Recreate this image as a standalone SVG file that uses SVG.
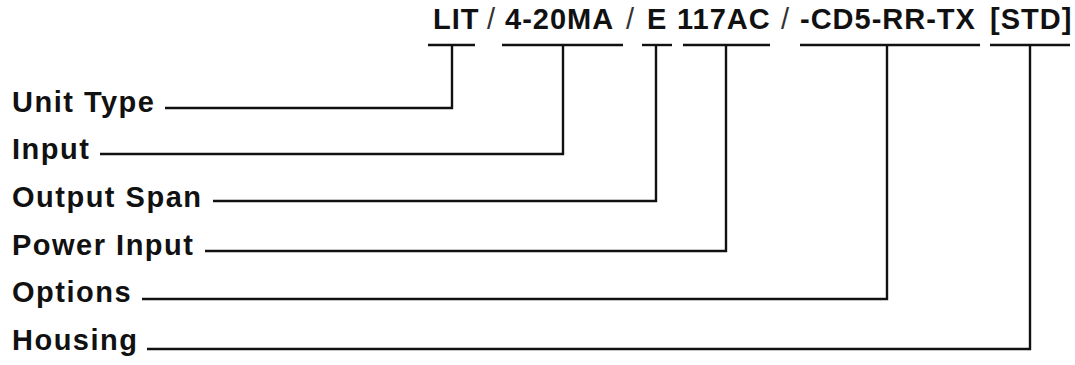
<svg xmlns="http://www.w3.org/2000/svg" width="1075" height="365" viewBox="0 0 1075 365">
  <style>
    .lbl { font-family: "Liberation Sans", Arial, sans-serif; font-weight: bold; font-size: 29px; letter-spacing: 1.5px; fill: #111; }
    .code { font-family: "Liberation Sans", Arial, sans-serif; font-weight: bold; font-size: 29px; letter-spacing: 1px; fill: #111; }
    .slash { font-weight: normal; fill: #333; }
    .ln { fill: none; stroke: #111; stroke-width: 2.4; stroke-linejoin: miter; stroke-linecap: butt; }
  </style>
  <rect width="1075" height="365" fill="#fff"/>
  <g id="code">
    <text class="code" y="29"><tspan x="433">LIT</tspan><tspan class="slash" x="487">/</tspan><tspan x="505">4-20MA</tspan><tspan class="slash" x="626">/</tspan><tspan x="647">E</tspan><tspan x="677">117AC</tspan><tspan class="slash" x="781">/</tspan><tspan x="800">-CD5-RR-TX</tspan><tspan x="990">[STD]</tspan></text>
  </g>
  <g id="unit-type">
    <text class="lbl" x="12" y="112">Unit Type</text>
    <line class="ln" x1="428" y1="45" x2="475" y2="45"/>
  </g>
  <g id="input">
    <text class="lbl" x="12" y="159">Input</text>
    <line class="ln" x1="502" y1="45" x2="623" y2="45"/>
  </g>
  <g id="output-span">
    <text class="lbl" x="12" y="207">Output Span</text>
    <line class="ln" x1="642" y1="45" x2="672" y2="45"/>
  </g>
  <g id="power-input">
    <text class="lbl" x="12" y="255">Power Input</text>
    <line class="ln" x1="683" y1="45" x2="770" y2="45"/>
  </g>
  <g id="options">
    <text class="lbl" x="12" y="302">Options</text>
    <line class="ln" x1="800" y1="45" x2="980" y2="45"/>
  </g>
  <g id="housing">
    <text class="lbl" x="12" y="350">Housing</text>
    <line class="ln" x1="990" y1="45" x2="1070" y2="45"/>
  </g>
  <g id="connectors">
    <path class="ln" d="M165,108 H452 V45"/>
    <path class="ln" d="M100,154 H563 V45"/>
    <path class="ln" d="M213,201 H656 V45"/>
    <path class="ln" d="M205,251 H726 V45"/>
    <path class="ln" d="M142,299 H887 V45"/>
    <path class="ln" d="M147,349 H1030 V45"/>
  </g>
</svg>
